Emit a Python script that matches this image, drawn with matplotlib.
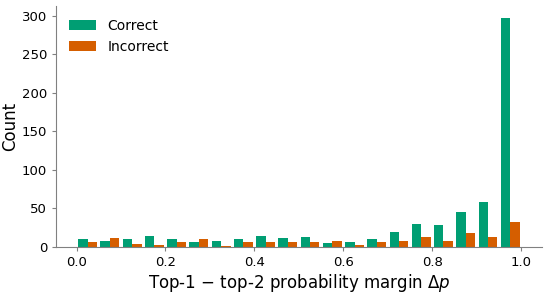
import numpy as np
import matplotlib
matplotlib.use('Agg')
import matplotlib.pyplot as plt

# histogram counts, 20 bins of width 0.05 over [0, 1]
bin_edges = [i / 20 for i in range(21)]
correct = [11, 8, 10, 14, 10, 6, 8, 10, 14, 12, 13, 5, 6, 11, 19, 30, 29, 46, 58, 297]
incorrect = [7, 12, 4, 3, 6, 11, 1, 7, 7, 7, 7, 8, 2, 7, 8, 13, 8, 18, 13, 32]

green = '#009E73'
orange = '#D55E00'

edges = np.array(bin_edges)
centers = (edges[:-1] + edges[1:]) / 2
w = 0.05 * 0.85 / 2

fig, ax = plt.subplots(figsize=(5.5, 2.93), dpi=100)
ax.bar(centers - w / 2, correct, width=w, color=green, label='Correct')
ax.bar(centers + w / 2, incorrect, width=w, color=orange, label='Incorrect')

ax.set_xlabel(r'Top-1 $-$ top-2 probability margin $\Delta p$', fontsize=12, labelpad=2)
ax.set_ylabel('Count', fontsize=12, labelpad=2)
ax.set_yticks([0, 50, 100, 150, 200, 250, 300])
ax.tick_params(labelsize=9.5, color='#808080', length=3)

for s in ['top', 'right']:
    ax.spines[s].set_visible(False)
for s in ['left', 'bottom']:
    ax.spines[s].set_color('#808080')

ax.legend(frameon=False, loc='upper left', fontsize=10)

fig.subplots_adjust(left=0.102, right=0.985, top=0.978, bottom=0.157)
fig.savefig('out.png', dpi=100)
